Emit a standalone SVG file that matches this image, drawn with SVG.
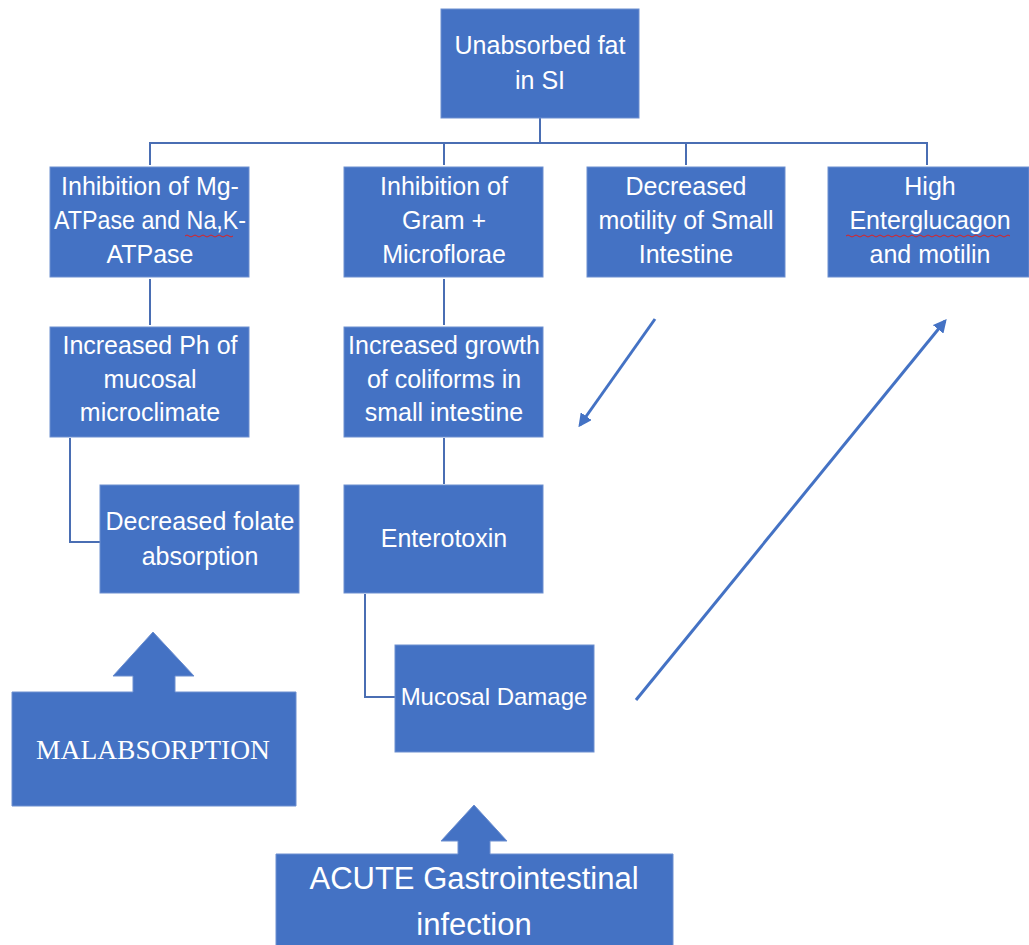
<svg xmlns="http://www.w3.org/2000/svg" width="1029" height="945" viewBox="0 0 1029 945">
<style>
.box{fill:#4472C4;stroke:#6C8FD0;stroke-width:1}
.t{font-family:"Liberation Sans",Arial,sans-serif;font-size:25px;fill:#FFFFFF;text-anchor:middle}
.conn{fill:none;stroke:#4A6EB3;stroke-width:2}
.arr{fill:none;stroke:#4472C4;stroke-width:3}
.sq{fill:none;stroke:#E02020;stroke-width:1}
</style>
<defs>
<marker id="ah" viewBox="0 0 10 10" refX="8" refY="5" markerWidth="4.5" markerHeight="4.5" orient="auto" markerUnits="strokeWidth">
<path d="M0,0 L10,5 L0,10 Z" fill="#4472C4"/>
</marker>
</defs>
<rect width="1029" height="945" fill="#FFFFFF"/>
<g id="connectors">
<path class="conn" d="M540,118 V143 M150,165 V143 H927 V165 M444,143 V165 M686,143 V165"/>
<path class="conn" d="M150,279 V325"/>
<path class="conn" d="M444,279 V325"/>
<path class="conn" d="M70,438 V542 H100"/>
<path class="conn" d="M444,438 V484"/>
<path class="conn" d="M365,594 V697 H395"/>
<line class="arr" x1="655" y1="319" x2="580" y2="425" marker-end="url(#ah)"/>
<line class="arr" x1="636" y1="700" x2="945" y2="321" marker-end="url(#ah)"/>
</g>
<g id="n-unabsorbed">
<rect class="box" x="441" y="9" width="198" height="109"/>
<text class="t" x="540" y="54">Unabsorbed fat</text>
<text class="t" x="540" y="89">in SI</text>
</g>
<g id="n-inhibition-mg">
<rect class="box" x="50" y="167" width="199" height="110"/>
<text class="t" x="150" y="195">Inhibition of Mg-</text>
<text class="t" x="150" y="229" textLength="192" lengthAdjust="spacingAndGlyphs">ATPase and Na,K-</text>
<text class="t" x="150" y="263">ATPase</text>
<path class="sq" d="M185,236 q2,-2 4,0 t4,0 t4,0 t4,0 t4,0 t4,0 t4,0 t4,0 t4,0 t4,0 t4,0 t4,0"/>
</g>
<g id="n-inhibition-gram">
<rect class="box" x="344" y="167" width="199" height="110"/>
<text class="t" x="444" y="195">Inhibition of</text>
<text class="t" x="444" y="229">Gram +</text>
<text class="t" x="444" y="263">Microflorae</text>
</g>
<g id="n-motility">
<rect class="box" x="587" y="167" width="198" height="110"/>
<text class="t" x="686" y="195">Decreased</text>
<text class="t" x="686" y="229">motility of Small</text>
<text class="t" x="686" y="263">Intestine</text>
</g>
<g id="n-enterglucagon">
<rect class="box" x="828" y="167" width="201" height="110"/>
<text class="t" x="930" y="195">High</text>
<text class="t" x="930" y="229">Enterglucagon</text>
<text class="t" x="930" y="263">and motilin</text>
<path class="sq" d="M846,236 q2,-2 4,0 t4,0 t4,0 t4,0 t4,0 t4,0 t4,0 t4,0 t4,0 t4,0 t4,0 t4,0 t4,0 t4,0 t4,0 t4,0 t4,0 t4,0 t4,0 t4,0 t4,0 t4,0 t4,0 t4,0 t4,0 t4,0 t4,0 t4,0 t4,0 t4,0 t4,0 t4,0 t4,0 t4,0 t4,0 t4,0 t4,0 t4,0 t4,0 t4,0 t4,0"/>
</g>
<g id="n-ph">
<rect class="box" x="50" y="327" width="199" height="110"/>
<text class="t" x="150" y="354">Increased Ph of</text>
<text class="t" x="150" y="388">mucosal</text>
<text class="t" x="150" y="421">microclimate</text>
</g>
<g id="n-coliforms">
<rect class="box" x="344" y="327" width="199" height="110"/>
<text class="t" x="444" y="354">Increased growth</text>
<text class="t" x="444" y="388">of coliforms in</text>
<text class="t" x="444" y="421">small intestine</text>
</g>
<g id="n-folate">
<rect class="box" x="100" y="485" width="199" height="108"/>
<text class="t" x="200" y="530">Decreased folate</text>
<text class="t" x="200" y="565">absorption</text>
</g>
<g id="n-enterotoxin">
<rect class="box" x="344" y="485" width="199" height="108"/>
<text class="t" x="444" y="547">Enterotoxin</text>
</g>
<g id="n-mucosal">
<rect class="box" x="395" y="645" width="199" height="107"/>
<text class="t" x="494" y="705" style="font-size:24px">Mucosal Damage</text>
</g>
<g id="n-malabsorption">
<path class="box" d="M12,692 H133 V676 H113 L153,632 L194,676 H175 V692 H296 V806 H12 Z"/>
<text x="153" y="759" style="font-family:'Liberation Serif','Times New Roman',serif;font-size:27.5px;fill:#FFFFFF;text-anchor:middle">MALABSORPTION</text>
</g>
<g id="n-acute">
<path class="box" d="M276,854 H458 V841 H441 L474,805 L507,841 H490 V854 H673 V946 H276 Z"/>
<text class="t" x="474" y="889" style="font-size:31px">ACUTE Gastrointestinal</text>
<text class="t" x="474" y="935" style="font-size:31px">infection</text>
</g>
</svg>
